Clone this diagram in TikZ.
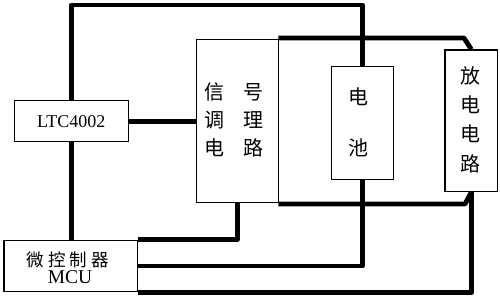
\documentclass[tikz,border=0pt]{standalone}
\usepackage{fontspec}
\setmainfont{Liberation Serif}
\newfontfamily\cjk{Noto Sans CJK SC}
\begin{document}
\begin{tikzpicture}[x=1pt,y=-1pt,
  box/.style={draw,line width=1.1pt,inner sep=0pt},
  wire/.style={line width=4.8pt,line join=round},
  cjkt/.style={font=\cjk\fontsize{20}{20}\selectfont,inner sep=0pt,align=center}]
\useasboundingbox (0,0) rectangle (500,297);
% boxes
\node[box,minimum width=114.3pt,minimum height=41pt,font=\fontsize{18}{18}\selectfont] (ltc) at (71.2,121.2) {LTC4002};
\node[box,minimum width=82.3pt,minimum height=163.4pt] (sig) at (237.2,121) {};
\node[box,minimum width=133.7pt,minimum height=51.7pt] (mcu) at (70.85,266) {};
\node[box,minimum width=61.6pt,minimum height=112.6pt] (bat) at (362.5,123) {};
\node[box,minimum width=52.7pt,minimum height=141.7pt] (dis) at (471.35,120.85) {};
% texts
\node[cjkt] (sigA) at (214,120) {信\\[8pt]调\\[8pt]电};
\node[cjkt] (sigB) at (253,120) {号\\[8pt]理\\[8pt]路};
\node[cjkt] (batT) at (358.3,122.5) {电\\[31.5pt]池};
\node[cjkt] (disT) at (470,119.5) {放\\[9.4pt]电\\[9.4pt]电\\[9.4pt]路};
\node[font=\cjk\fontsize{17.5}{17.5}\selectfont,inner sep=0pt] (mcuA) at (68,259.5) {微\hspace{4pt}控\hspace{4pt}制\hspace{4pt}器};
\node[font=\fontsize{19.5}{19.5}\selectfont,inner sep=0pt] (mcuB) at (70,277) {MCU};
% junction coordinates
\coordinate (topY) at (0,5);
\coordinate (t1) at (278.3,38);
\coordinate (t2) at (464,38);
\coordinate (b1) at (278.3,204);
\coordinate (b2) at (465,204);
% wires
\draw[wire] (ltc.north) -- (ltc.north |- topY) -| (bat.north);
\draw[wire] (ltc.east) -- (ltc.east -| sig.west);
\draw[wire] (ltc.south) -- (ltc.south |- mcu.north);
\draw[wire] (sig.south) |- (mcu.north east);
\draw[wire] (t1) -- (t2) -- (dis.north);
\draw[wire] (b1) -- (b2) -- (dis.south);
\draw[wire] (bat.south) |- (mcu.east);
\draw[wire] (mcu.south east) -| (dis.south);
\end{tikzpicture}
\end{document}
